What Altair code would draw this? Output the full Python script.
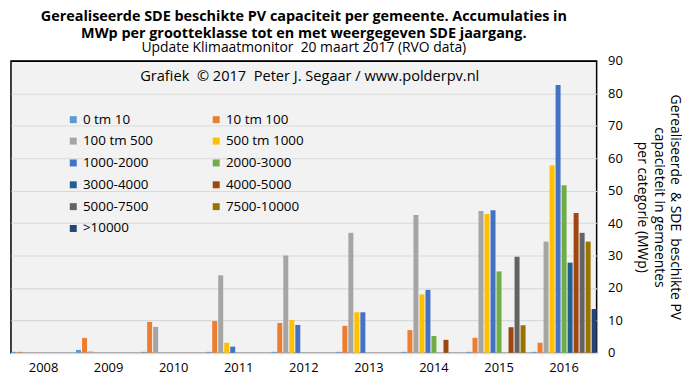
import altair as alt
import pandas as pd

years = ["2008", "2009", "2010", "2011", "2012", "2013", "2014", "2015", "2016"]
categories = ["0 tm 10", "10 tm 100", "100 tm 500", "500 tm 1000", "1000-2000",
              "2000-3000", "3000-4000", "4000-5000", "5000-7500", "7500-10000", ">10000"]
colors = ["#5B9BD5", "#ED7D31", "#A5A5A5", "#FFC000", "#4472C4", "#70AD47",
          "#255E91", "#9E480E", "#636363", "#997300", "#264478"]

v_0_10 = [0.3, 0.9, 0.3, 0.3, 0.3, 0.3, 0.3, 0.3, 0.3]
v_10_100 = [0.3, 4.6, 9.5, 9.8, 9.2, 8.3, 7.0, 4.6, 3.1]
v_100_500 = [0, 0.4, 8.0, 23.9, 30.0, 37.0, 42.5, 43.7, 34.3]
v_500_1000 = [0, 0, 0, 3.1, 10.1, 12.5, 18.0, 42.8, 57.8]
v_1000_2000 = [0, 0, 0, 1.9, 8.6, 12.5, 19.4, 44.0, 82.6]
v_2000_3000 = [0, 0, 0, 0, 0, 0, 5.2, 25.1, 51.7]
v_3000_4000 = [0, 0, 0, 0, 0, 0, 0, 0, 27.8]
v_4000_5000 = [0, 0, 0, 0, 0, 0, 4.0, 7.9, 43.1]
v_5000_7500 = [0, 0, 0, 0, 0, 0, 0, 29.6, 37.0]
v_7500_10000 = [0, 0, 0, 0, 0, 0, 0, 8.5, 34.3]
v_10000 = [0, 0, 0, 0, 0, 0, 0, 0, 13.5]

series = [v_0_10, v_10_100, v_100_500, v_500_1000, v_1000_2000, v_2000_3000,
          v_3000_4000, v_4000_5000, v_5000_7500, v_7500_10000, v_10000]

NB = "\u00a0"
title_lines = ["Gerealiseerde SDE beschikte PV capaciteit per gemeente. Accumulaties in",
               "MWp per grootteklasse tot en met weergegeven SDE jaargang."]
subtitle = "Update Klimaatmonitor " + NB + "20 maart 2017 (RVO data)"
credit = "Grafiek " + NB + "\u00a9 2017 " + NB + "Peter J. Segaar / www.polderpv.nl"
y_title = ["Gerealiseerde " + NB + "& SDE " + NB + "beschikte PV",
           "capacieteit in gemeentes", "per categorie (MWp)"]

rows = []
for cat, vals in zip(categories, series):
    for yr, v in zip(years, vals):
        rows.append({"year": yr, "cat": cat, "value": v})
df = pd.DataFrame(rows)

FONT = "Open Sans"

bars = alt.Chart(df).mark_bar().encode(
    x=alt.X("year:N", sort=years,
            scale=alt.Scale(paddingInner=0, paddingOuter=0),
            axis=alt.Axis(title=None, labelAngle=0, ticks=False, domainColor="#D9D9D9",
                          domainWidth=2, labelPadding=9, labelFontSize=13, labelFont=FONT,
                          labelColor="black", grid=False)),
    xOffset=alt.XOffset("cat:N", sort=categories,
                        scale=alt.Scale(paddingInner=0.17, paddingOuter=0)),
    y=alt.Y("value:Q", scale=alt.Scale(domain=[0, 90], nice=False),
            axis=alt.Axis(orient="right", values=list(range(0, 91, 10)), ticks=False,
                          domain=False, labelPadding=11, labelFontSize=13, labelFont=FONT,
                          labelColor="black", title=y_title, titleFontSize=14,
                          titleFont=FONT, titleFontWeight="normal", titleColor="black",
                          titleLineHeight=17, titlePadding=12,
                          gridColor={"condition": {"test": "datum.value === 90", "value": "black"},
                                     "value": "#D9D9D9"},
                          gridWidth=1.2)),
    color=alt.Color("cat:N", sort=categories,
                    scale=alt.Scale(domain=categories, range=colors),
                    legend=alt.Legend(orient="none", legendX=56, legendY=52, columns=2,
                                      direction="horizontal",
                                      columnPadding=56, rowPadding=7, symbolType="square",
                                      symbolSize=49, symbolStrokeWidth=0, labelFontSize=13.5,
                                      labelFont=FONT, labelColor="black", labelOffset=3,
                                      title=None, padding=0)),
)

note = alt.Chart(pd.DataFrame({"t": [credit]})).mark_text(
    fontSize=14.7, font=FONT, color="black"
).encode(text="t:N", x=alt.value(301), y=alt.value(16))

chart = alt.layer(bars, note).properties(
    width=590, height=294,
    padding={"left": 3, "top": 0, "right": 0, "bottom": 0},
    background="white",
    title=alt.Title(title_lines, subtitle=subtitle, fontSize=14.5, fontWeight="bold",
                    font=FONT, color="black", subtitleFont=FONT, subtitleFontSize=14,
                    subtitleColor="black", anchor="middle", frame="group",
                    lineHeight=16.5, subtitleLineHeight=15, subtitlePadding=0, offset=-1),
).configure_view(stroke="black", strokeWidth=1.5, fill="#F2F2F2")

chart.save("out.html", embed_options={"renderer": "svg", "actions": False})
